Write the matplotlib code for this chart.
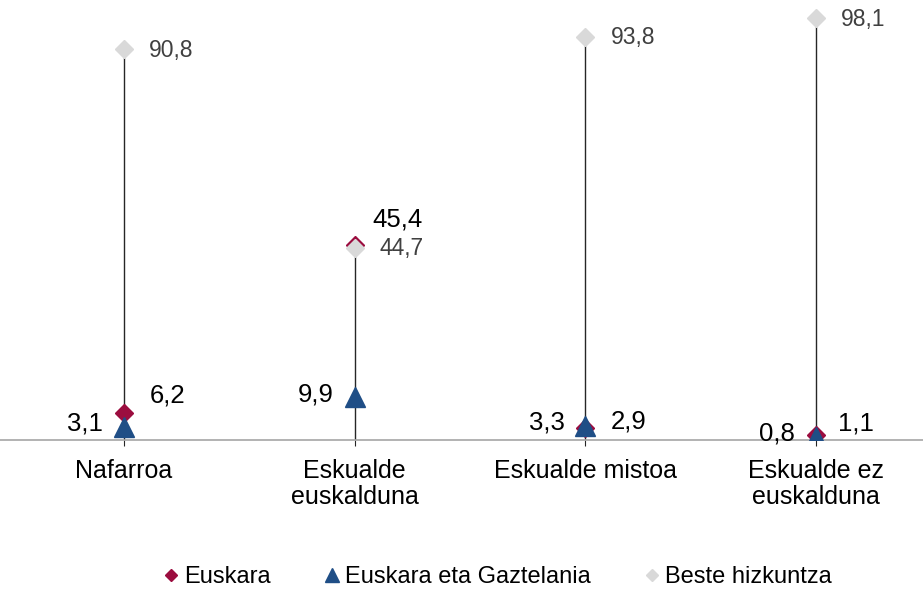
import matplotlib
matplotlib.use("Agg")
import matplotlib.pyplot as plt
import numpy as np

plt.rcParams['font.family'] = ['Liberation Sans', 'DejaVu Sans']

kategoriak = ["Nafarroa", "Eskualde\neuskalduna", "Eskualde mistoa", "Eskualde ez\neuskalduna"]
euskara = [6.2, 45.4, 2.9, 1.1]
euskara_gaztelania = [3.1, 9.9, 3.3, 0.8]
beste = [90.8, 44.7, 93.8, 98.1]

def etiketa(v):
    return f"{v:.1f}".replace(".", ",")

fig = plt.figure(figsize=(9.23, 5.90), dpi=100)
ax = fig.add_axes([0, 150 / 590, 1, 440 / 590])

x = np.arange(len(kategoriak))
goiak = np.max([euskara, euskara_gaztelania, beste], axis=0)

# lerro bertikalak
ax.vlines(x, 0, goiak, color="#262626", lw=1, zorder=1)

ax.plot(x, euskara, ls="none", marker="D", ms=9, color="#9B0D3F", zorder=3, label="Euskara")
ax.plot(x, euskara_gaztelania, ls="none", marker="^", ms=14, color="#1F4E86", zorder=4,
        label="Euskara eta Gaztelania")
ax.plot(x, beste, ls="none", marker="D", ms=9, color="#D9D9D9", zorder=5, label="Beste hizkuntza")

# etiketak
eusk_off = [(26, 18), (18, 25), (25, 6), (22, 12)]
for i in range(len(kategoriak)):
    ax.annotate(etiketa(beste[i]), (x[i], beste[i]), xytext=(25, -1), textcoords="offset pixels",
                ha="left", va="center", fontsize=16.5, color="#404040")
    ax.annotate(etiketa(euskara[i]), (x[i], euskara[i]), xytext=eusk_off[i], textcoords="offset pixels",
                ha="left", va="center", fontsize=18.5, color="black")
    ax.annotate(etiketa(euskara_gaztelania[i]), (x[i], euskara_gaztelania[i]), xytext=(-21, 3),
                textcoords="offset pixels", ha="right", va="center", fontsize=18.5, color="black")

ax.set_xlim(-0.537, 3.463)
ax.set_ylim(0, 102.3)
ax.set_xticks(x)
ax.set_xticklabels(kategoriak, fontsize=18, color="black", linespacing=1.1)
ax.tick_params(axis="x", length=4, color="#262626", pad=10)
ax.set_yticks([])
for s in ["top", "right", "left"]:
    ax.spines[s].set_visible(False)
ax.spines["bottom"].set_color("#A6A6A6")
ax.spines["bottom"].set_linewidth(1.2)

fig.legend(loc="center", bbox_to_anchor=(0.538, 1 - 577 / 590), ncol=3, frameon=False,
           fontsize=17, handlelength=0.8, handletextpad=0.15, columnspacing=2.2, markerscale=0.7)

fig.savefig("out.png", dpi=100)
